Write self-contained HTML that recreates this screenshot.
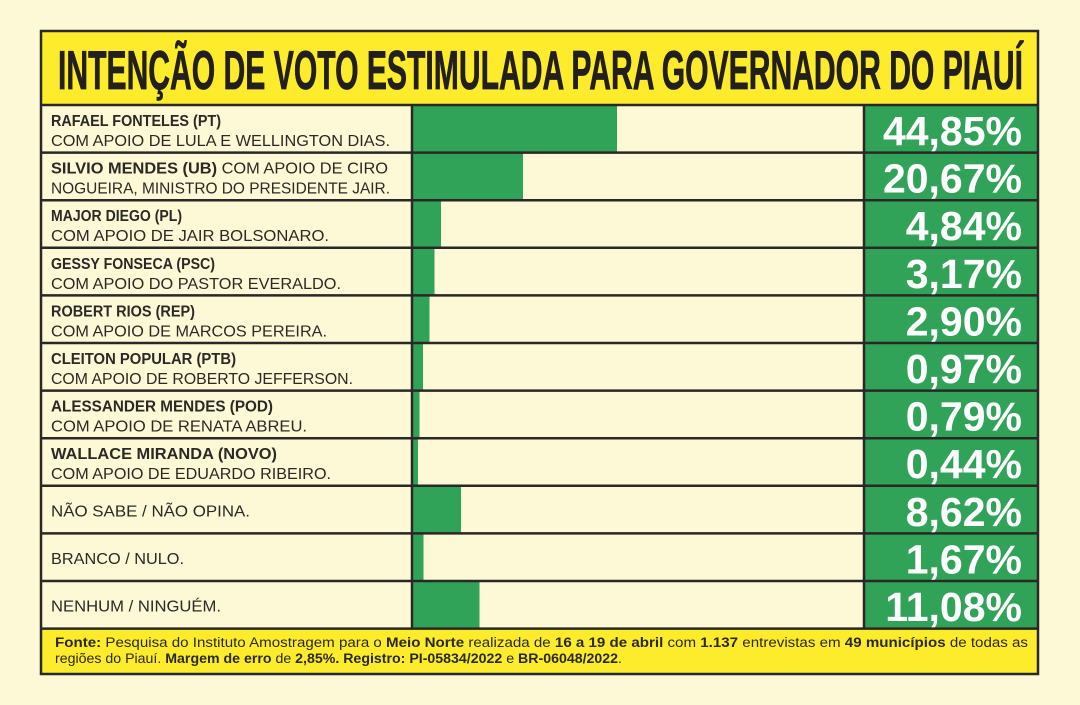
<!DOCTYPE html>
<html>
<head>
<meta charset="utf-8">
<style>
  html,body{margin:0;padding:0;background:#fdf9d7;}
  svg{display:block;}
  .lbl{font-family:"Liberation Sans",sans-serif;font-size:16px;fill:#2b2925;}
  .b{font-weight:bold;}
  .pct{font-family:"Liberation Sans",sans-serif;font-weight:bold;font-size:41px;fill:#ffffff;}
  .ft{font-family:"Liberation Sans",sans-serif;font-size:13.5px;fill:#2b2925;}
</style>
</head>
<body>
<svg width="1080" height="705" viewBox="0 0 1080 705" xmlns="http://www.w3.org/2000/svg">
  <rect x="0" y="0" width="1080" height="705" fill="#fdf9d7"/>
  <!-- title band -->
  <rect x="41" y="31" width="997" height="74" fill="#fcec2c"/>
  <!-- rows background -->
  <rect x="41" y="105" width="997" height="524" fill="#fdf8d6"/>
  <!-- green column -->
  <rect x="864" y="105" width="174" height="524" fill="#30a358"/>
  <!-- footer band -->
  <rect x="41" y="629" width="997" height="45" fill="#fcec2c"/>

  <!-- bars -->
  <g fill="#30a358">
    <rect x="413" y="105" width="204" height="48"/>
    <rect x="413" y="152.6" width="110" height="48"/>
    <rect x="413" y="200.2" width="28" height="48"/>
    <rect x="413" y="247.8" width="21.5" height="48"/>
    <rect x="413" y="295.4" width="16.5" height="48"/>
    <rect x="413" y="343" width="10" height="48"/>
    <rect x="413" y="390.6" width="6.5" height="48"/>
    <rect x="413" y="438.2" width="5" height="48"/>
    <rect x="413" y="485.8" width="48" height="48"/>
    <rect x="413" y="533.4" width="10.5" height="48"/>
    <rect x="413" y="581" width="66.5" height="48"/>
  </g>

  <!-- grid lines -->
  <g stroke="#2a2824" stroke-width="2.5" fill="none">
    <line x1="41" y1="105" x2="1038" y2="105"/>
    <line x1="41" y1="152.6" x2="1038" y2="152.6"/>
    <line x1="41" y1="200.2" x2="1038" y2="200.2"/>
    <line x1="41" y1="247.8" x2="1038" y2="247.8"/>
    <line x1="41" y1="295.4" x2="1038" y2="295.4"/>
    <line x1="41" y1="343" x2="1038" y2="343"/>
    <line x1="41" y1="390.6" x2="1038" y2="390.6"/>
    <line x1="41" y1="438.2" x2="1038" y2="438.2"/>
    <line x1="41" y1="485.8" x2="1038" y2="485.8"/>
    <line x1="41" y1="533.4" x2="1038" y2="533.4"/>
    <line x1="41" y1="581" x2="1038" y2="581"/>
    <line x1="41" y1="628.6" x2="1038" y2="628.6"/>
    <line x1="412" y1="105" x2="412" y2="628.6"/>
    <line x1="864" y1="105" x2="864" y2="628.6"/>
    <rect x="41" y="31" width="997" height="643"/>
  </g>

  <!-- title -->
  <text x="58" y="89" textLength="965" lengthAdjust="spacingAndGlyphs"
        font-family="'Liberation Sans',sans-serif" font-weight="bold" font-size="55" fill="#231f1c" stroke="#231f1c" stroke-width="0.8">INTENÇÃO DE VOTO ESTIMULADA PARA GOVERNADOR DO PIAUÍ</text>

  <!-- labels -->
  <g class="lbl">
    <text x="51" y="126" class="b" textLength="170" lengthAdjust="spacingAndGlyphs">RAFAEL FONTELES (PT)</text>
    <text x="51" y="146" textLength="339" lengthAdjust="spacingAndGlyphs">COM APOIO DE LULA E WELLINGTON DIAS.</text>

    <text x="51" y="173.6" textLength="337" lengthAdjust="spacingAndGlyphs"><tspan class="b">SILVIO MENDES (UB)</tspan> COM APOIO DE CIRO</text>
    <text x="51" y="193.6" textLength="339" lengthAdjust="spacingAndGlyphs">NOGUEIRA, MINISTRO DO PRESIDENTE JAIR.</text>

    <text x="51" y="221.2" class="b" textLength="131" lengthAdjust="spacingAndGlyphs">MAJOR DIEGO (PL)</text>
    <text x="51" y="241.2" textLength="278" lengthAdjust="spacingAndGlyphs">COM APOIO DE JAIR BOLSONARO.</text>

    <text x="51" y="268.8" class="b" textLength="164" lengthAdjust="spacingAndGlyphs">GESSY FONSECA (PSC)</text>
    <text x="51" y="288.8" textLength="290" lengthAdjust="spacingAndGlyphs">COM APOIO DO PASTOR EVERALDO.</text>

    <text x="51" y="316.4" class="b" textLength="144" lengthAdjust="spacingAndGlyphs">ROBERT RIOS (REP)</text>
    <text x="51" y="336.4" textLength="276" lengthAdjust="spacingAndGlyphs">COM APOIO DE MARCOS PEREIRA.</text>

    <text x="51" y="364" class="b" textLength="185" lengthAdjust="spacingAndGlyphs">CLEITON POPULAR (PTB)</text>
    <text x="51" y="384" textLength="302" lengthAdjust="spacingAndGlyphs">COM APOIO DE ROBERTO JEFFERSON.</text>

    <text x="51" y="411.6" class="b" textLength="222" lengthAdjust="spacingAndGlyphs">ALESSANDER MENDES (POD)</text>
    <text x="51" y="431.6" textLength="256" lengthAdjust="spacingAndGlyphs">COM APOIO DE RENATA ABREU.</text>

    <text x="51" y="459.2" class="b" textLength="226" lengthAdjust="spacingAndGlyphs">WALLACE MIRANDA (NOVO)</text>
    <text x="51" y="479.2" textLength="280" lengthAdjust="spacingAndGlyphs">COM APOIO DE EDUARDO RIBEIRO.</text>

    <text x="51" y="516.5" textLength="199" lengthAdjust="spacingAndGlyphs">NÃO SABE / NÃO OPINA.</text>
    <text x="51" y="564.1" textLength="133" lengthAdjust="spacingAndGlyphs">BRANCO / NULO.</text>
    <text x="51" y="611.7" textLength="170" lengthAdjust="spacingAndGlyphs">NENHUM / NINGUÉM.</text>
  </g>

  <!-- percentages -->
  <g class="pct" text-anchor="end">
    <text x="1022" y="145">44,85%</text>
    <text x="1022" y="192.6">20,67%</text>
    <text x="1022" y="240.2">4,84%</text>
    <text x="1022" y="287.8">3,17%</text>
    <text x="1022" y="335.4">2,90%</text>
    <text x="1022" y="383">0,97%</text>
    <text x="1022" y="430.6">0,79%</text>
    <text x="1022" y="478.2">0,44%</text>
    <text x="1022" y="525.8">8,62%</text>
    <text x="1022" y="573.4">1,67%</text>
    <text x="1022" y="621">11,08%</text>
  </g>

  <!-- footer -->
  <text class="ft" x="55" y="647" textLength="973" lengthAdjust="spacingAndGlyphs"><tspan font-weight="bold">Fonte:</tspan> Pesquisa do Instituto Amostragem para o <tspan font-weight="bold">Meio Norte</tspan> realizada de <tspan font-weight="bold">16 a 19 de abril</tspan> com <tspan font-weight="bold">1.137</tspan> entrevistas em <tspan font-weight="bold">49 municípios</tspan> de todas as</text>
  <text class="ft" x="55" y="663" textLength="567" lengthAdjust="spacingAndGlyphs">regiões do Piauí. <tspan font-weight="bold">Margem de erro</tspan> de <tspan font-weight="bold">2,85%. Registro: PI-05834/2022</tspan> e <tspan font-weight="bold">BR-06048/2022</tspan>.</text>
</svg>
</body>
</html>
